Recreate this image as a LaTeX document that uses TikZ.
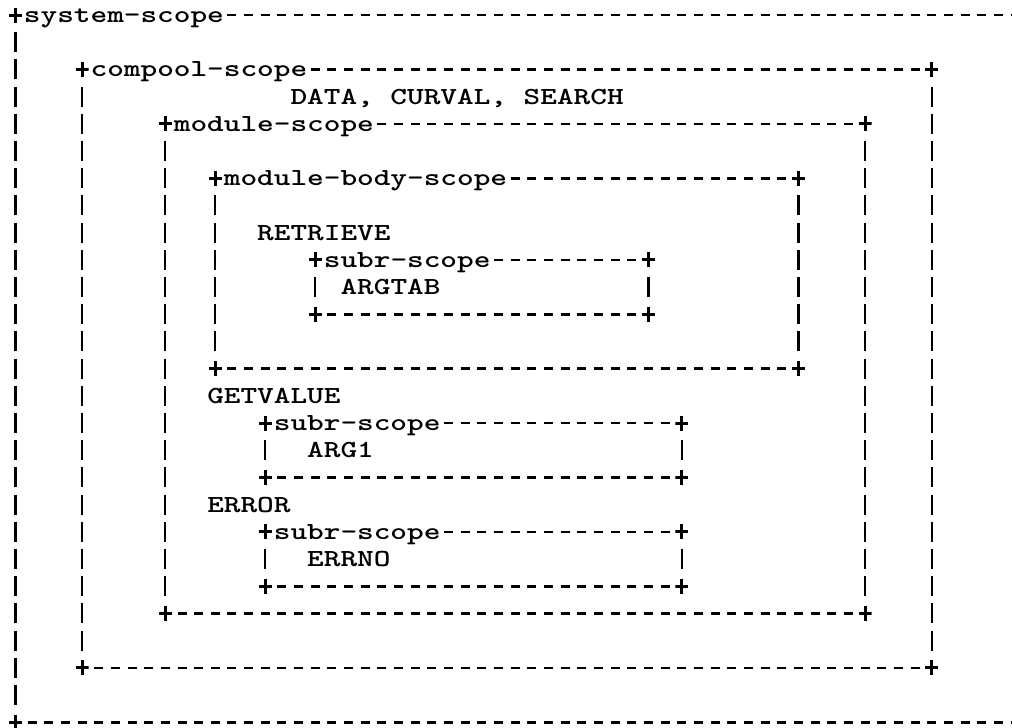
\documentclass[tikz,border=0pt]{standalone}
\newcommand\X[1]{(15.4+16.66*(#1))}
\newcommand\Y[1]{(15+27.2*(#1))}
\tikzset{
  hdash/.style={line width=2.6pt, dash pattern=on 9pt off 7.66pt},
  vdash/.style={line width=2.3pt, dash pattern=on 20pt off 7.2pt},
  corner/.style={inner sep=0pt, minimum width=13pt, minimum height=15pt,
    path picture={\draw[line width=3pt] (path picture bounding box.north) -- (path picture bounding box.south)
      (path picture bounding box.west) -- (path picture bounding box.east);}},
  lbl/.style={inner sep=0pt, anchor=base west, xscale=1.295,
    font=\ttfamily\bfseries\fontsize{24.5}{24.5}\selectfont},
}
% name, left col, right col, top row, bottom row, first dash col, label
\newcommand\scopebox[7]{%
  \node[corner] (#1TL) at ({\X{#2}},{\Y{#4}}) {};
  \node[corner] (#1TR) at ({\X{#3}},{\Y{#4}}) {};
  \node[corner] (#1BL) at ({\X{#2}},{\Y{#5}}) {};
  \node[corner] (#1BR) at ({\X{#3}},{\Y{#5}}) {};
  \node[lbl] (#1lab) at ({\X{#2+1}-8.33},{\Y{#4}+7.5}) {#7};
  \coordinate (#1t1) at ({\X{#6}-4.5},{\Y{#4}});
  \coordinate (#1t2) at ({\X{#3-1}+4.5},{\Y{#4}});
  \coordinate (#1b1) at ({\X{#2+1}-4.5},{\Y{#5}});
  \coordinate (#1b2) at ({\X{#3-1}+4.5},{\Y{#5}});
  \coordinate (#1l1) at ({\X{#2}},{\Y{#4+1}-10});
  \coordinate (#1l2) at ({\X{#2}},{\Y{#5-1}+10});
  \coordinate (#1r1) at ({\X{#3}},{\Y{#4+1}-10});
  \coordinate (#1r2) at ({\X{#3}},{\Y{#5-1}+10});
  \draw[hdash] (#1t1) -- (#1t2);
  \draw[hdash] (#1b1) -- (#1b2);
  \draw[vdash] (#1l1) -- (#1l2);
  \draw[vdash] (#1r1) -- (#1r2);
}
\begin{document}
\begin{tikzpicture}[x=1pt,y=-1pt]
\useasboundingbox (0,0) rectangle (1012,728);
% system scope (right side cut off by the page edge)
\node[corner] (sysTL) at ({\X{0}},{\Y{0}}) {};
\node[corner] (sysBL) at ({\X{0}},{\Y{26}}) {};
\node[lbl] (syslab) at ({\X{1}-8.33},{\Y{0}+7.5}) {system-scope};
\coordinate (syst1) at ({\X{13}-4.5},{\Y{0}});
\coordinate (syst2) at (1012,{\Y{0}});
\coordinate (sysb1) at ({\X{1}-4.5},{\Y{26}});
\coordinate (sysb2) at (1012,{\Y{26}});
\coordinate (sysl1) at ({\X{0}},{\Y{1}-10});
\coordinate (sysl2) at ({\X{0}},{\Y{25}+10});
\draw[hdash] (syst1) -- (syst2);
\draw[hdash] (sysb1) -- (sysb2);
\draw[vdash] (sysl1) -- (sysl2);
% nested scopes
\scopebox{cp}{4}{55}{2}{24}{18}{compool-scope}
\scopebox{md}{9}{51}{4}{22}{22}{module-scope}
\scopebox{mb}{12}{47}{6}{13}{30}{module-body-scope}
\scopebox{sa}{18}{38}{9}{11}{29}{subr-scope}
\scopebox{sb}{15}{40}{15}{17}{26}{subr-scope}
\scopebox{sc}{15}{40}{19}{21}{26}{subr-scope}
% names
\node[lbl] (data) at ({\X{17}-8.33},{\Y{3}+7.5}) {DATA, CURVAL, SEARCH};
\node[lbl] (retr) at ({\X{15}-8.33},{\Y{8}+7.5}) {RETRIEVE};
\node[lbl] (argt) at ({\X{20}-8.33},{\Y{10}+7.5}) {ARGTAB};
\node[lbl] (getv) at ({\X{12}-8.33},{\Y{14}+7.5}) {GETVALUE};
\node[lbl] (arg1) at ({\X{18}-8.33},{\Y{16}+7.5}) {ARG1};
\node[lbl] (err) at ({\X{12}-8.33},{\Y{18}+7.5}) {ERROR};
\node[lbl] (errno) at ({\X{18}-8.33},{\Y{20}+7.5}) {ERRNO};
\end{tikzpicture}
\end{document}
